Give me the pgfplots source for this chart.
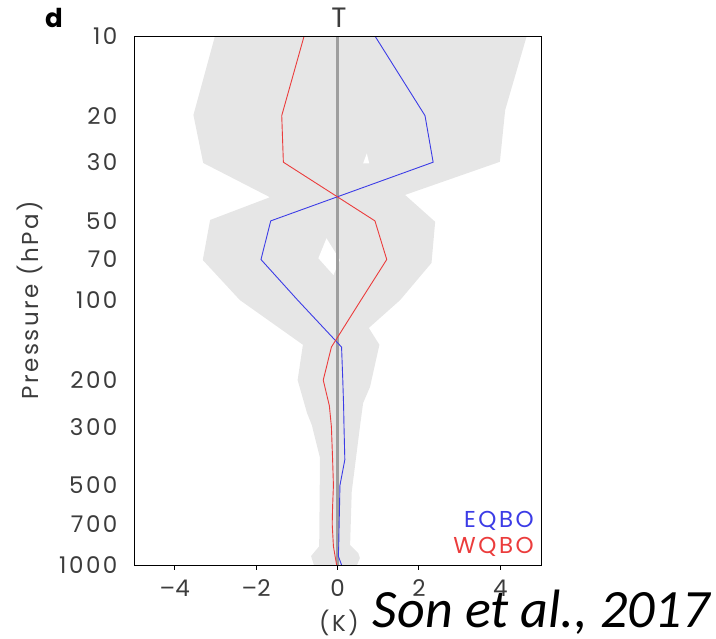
\documentclass[border=0pt]{standalone}
\usepackage{fontspec}
\usepackage{pgfplots}
\pgfplotsset{compat=1.18}
\setmainfont{Poppins}[LetterSpace=11]
\newfontfamily\calib{Carlito}
\newcommand{\mn}{{\addfontfeature{LetterSpace=0}–}}
\definecolor{eq}{RGB}{60,60,230}
\definecolor{wq}{RGB}{235,60,60}
\definecolor{shade}{RGB}{230,230,230}
\definecolor{lab}{RGB}{60,60,60}
\begin{document}
\begin{tikzpicture}
\begin{axis}[name=ax, at={(0,0)}, anchor=south west,
  scale only axis, width=407pt, height=529pt,
  xmin=-5, xmax=5, ymin=10, ymax=1000, ymode=log, y dir=reverse,
  xtick={-4,-2,0,2,4}, xticklabels={{\mn4},{\mn2},0,2,4},
  ytick={10,20,30,50,70,100,200,300,500,700,1000},
  yticklabels={10,20,30,50,70,100,200,300,500,700,1000},
  yminorticks=false, xminorticks=false,
  axis on top,
  axis line style={line width=0.8pt},
  tick align=outside, xtick pos=bottom, ytick pos=left,
  major tick length=5pt,
  xtick style={black, line width=0.8pt},
  ytick style={draw=none},
  ticklabel style={font=\fontsize{23}{26}\selectfont, color=lab},
  yticklabel style={xshift=-8pt},
  xticklabel style={yshift=-6pt},
  /pgf/number format/assume math mode=true,
]
% shaded region
\addplot[fill=shade, draw=none] coordinates {
(-3.01,10) (-3.54,19.9) (-3.30,30.2) (-1.66,40.7) (-3.13,49.6) (-3.31,70.3)
(-2.40,99.6) (-0.85,147) (-0.98,200) (-0.75,266) (-0.63,296) (-0.43,394)
(-0.45,850) (-0.65,925) (-0.58,1000)
(0.48,1000) (0.55,942) (0.51,901) (0.31,840) (0.35,528) (0.56,293)
(0.63,244) (0.80,212) (1.03,147) (0.77,127) (1.54,99.6) (2.31,72.1)
(2.40,50.4) (1.66,39.9) (3.99,29.9) (4.12,19.05) (4.65,10)
} -- cycle;
% holes
\addplot[fill=white, draw=none] coordinates {
(-0.27,58.2) (0.06,70.3) (-0.10,80.1) (-0.47,69.2)} -- cycle;
\addplot[fill=white, draw=none] coordinates {
(0.63,30.3) (0.72,27.8) (0.78,30.3)} -- cycle;
% zero line
\addplot[black!38, line width=2.2pt] coordinates {(0,10) (0,1000)};
% EQBO
\addplot[eq, line width=0.9pt] coordinates {
(0.92,10) (2.15,20) (2.35,30) (-1.64,50) (-1.88,70) (-0.97,100) (0.10,150)
(0.13,200) (0.15,250) (0.16,300) (0.18,400) (0.06,500) (0.05,600) (0.04,700)
(0.03,850) (0.02,925) (0.10,1000)};
% WQBO
\addplot[wq, line width=0.9pt] coordinates {
(-0.82,10) (-1.37,20) (-1.33,30) (0.92,50) (1.21,70) (0.57,100) (-0.15,150)
(-0.35,200) (-0.20,250) (-0.15,300) (-0.12,400) (-0.10,500) (-0.12,600)
(-0.13,700) (-0.10,850) (-0.06,925) (-0.02,1000)};
\end{axis}
\node[font=\bfseries\fontsize{26}{26}\selectfont] at ([shift={(-80pt,547pt)}]ax.south west) {d};
\node[font=\fontsize{28}{28}\selectfont, color=lab] at ([shift={(205pt,547pt)}]ax.south west) {T};
\node[rotate=90, font=\fontsize{23}{26}\selectfont, color=lab] at ([shift={(-104pt,265pt)}]ax.south west) {Pressure (hPa)};
\node[font=\fontsize{23}{26}\selectfont, color=lab] at ([shift={(205pt,-58pt)}]ax.south west) {(K)};
\node[anchor=east, inner sep=0pt, color=eq, font=\fontsize{23}{26}\selectfont] at ([shift={(400pt,44pt)}]ax.south west) {EQBO};
\node[anchor=east, inner sep=0pt, color=wq, font=\fontsize{23}{26}\selectfont] at ([shift={(400pt,18pt)}]ax.south west) {WQBO};
\node[anchor=base east, inner sep=0pt, font=\calib\itshape\fontsize{54}{54}\selectfont] at ([shift={(576pt,-63pt)}]ax.south west) {Son et al., 2017};
\pgfresetboundingbox
\path[use as bounding box] ([shift={(-134pt,-74pt)}]ax.south west) rectangle ([shift={(582pt,565pt)}]ax.south west);
\end{tikzpicture}
\end{document}
